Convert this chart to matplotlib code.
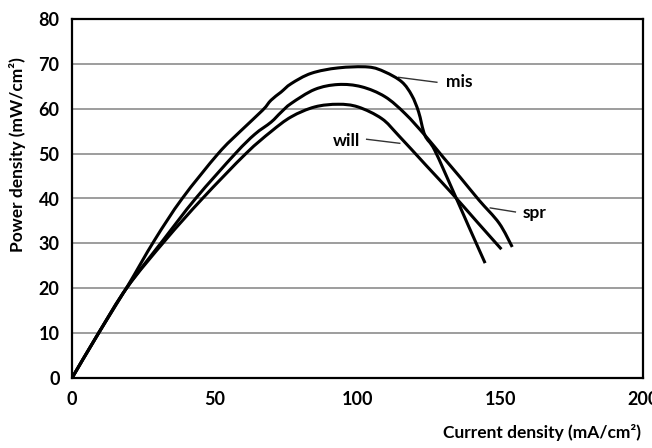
import numpy as np
import matplotlib
matplotlib.use('Agg')
from matplotlib import pyplot as plt
from matplotlib.path import Path
from matplotlib.patches import PathPatch

plt.rcParams['font.family'] = ['Lato', 'DejaVu Sans']
plt.rcParams['font.weight'] = 'bold'

# curve readings (current density, power density)
mis_x = [0, 9.3, 19.3, 28.9, 38.6, 51.2, 59, 66.8, 69.7, 73.2, 76.8, 83.8, 93.2, 103.8,
         109.6, 115.5, 119, 121.4, 123.6, 127, 133.8, 139, 144.7]
mis_y = [0, 10, 20.3, 30.7, 40, 50, 55, 59.7, 61.9, 63.7, 65.6, 67.9, 69.1, 69.3,
         68.2, 66, 63, 59.3, 54.1, 50.8, 41.2, 33.7, 25.6]

spr_x = [0, 9.3, 19.3, 31.9, 43.3, 57.2, 64, 69.7, 73.2, 76.8, 85, 93.2, 101.4, 109.6,
         116.7, 123.6, 130, 136, 142.6, 149.6, 154.2]
spr_y = [0, 10, 20.2, 30.7, 40, 50, 54.3, 57.0, 59.2, 61.2, 64.3, 65.4, 64.9, 62.7,
         58.9, 54.1, 49.2, 44.7, 39.6, 34.5, 29.2]

will_x = [0, 9.3, 19.3, 32.7, 45.7, 60.9, 69.7, 76.8, 85, 93.2, 100.2, 108.5, 114.3,
          124, 133, 142, 150.4]
will_y = [0, 10, 20.2, 30.7, 40, 50, 54.9, 58.2, 60.4, 61, 60.4, 57.8, 54.1,
          47.4, 41.2, 34.7, 28.7]

x_ticks = [0, 50, 100, 150, 200]
y_ticks = [0, 10, 20, 30, 40, 50, 60, 70, 80]

# label text, text anchor, leader line start/end
labels = [
    ('mis', (131.0, 65.9), (114.4, 67.0), (127.8, 65.9)),
    ('will', (91.5, 52.8), (103.2, 53.2), (114.8, 52.3)),
    ('spr', (158.0, 36.7), (146.5, 37.9), (155.3, 37.0)),
]


# smoothed line like a spreadsheet "smooth line": bezier through every reading
def smooth_path(xs, ys):
    p = np.column_stack([xs, ys]).astype(float)
    verts = [p[0]]
    codes = [Path.MOVETO]
    for i in range(len(p) - 1):
        p0 = p[i - 1] if i > 0 else p[i]
        p3 = p[i + 2] if i + 2 < len(p) else p[i + 1]
        c1 = p[i] + (p[i + 1] - p0) / 6.0
        c2 = p[i + 1] - (p3 - p[i]) / 6.0
        verts += [c1, c2, p[i + 1]]
        codes += [Path.CURVE4] * 3
    return Path(verts, codes)


fig = plt.figure(figsize=(6.52, 4.48), dpi=100)
ax = fig.add_axes([72/652, 1-378/448, 571/652, 359/448])

for yv in y_ticks[1:-1]:
    ax.axhline(yv, color='#8c8c8c', lw=1.2, zorder=1)

for xs, ys in [(mis_x, mis_y), (spr_x, spr_y), (will_x, will_y)]:
    ax.add_patch(PathPatch(smooth_path(xs, ys), fill=False, edgecolor='black',
                           lw=2.2, capstyle='butt', zorder=3))

for txt, pos, l0, l1 in labels:
    ax.plot([l0[0], l1[0]], [l0[1], l1[1]], color='#333333', lw=1.0, zorder=2)
    ax.text(pos[0], pos[1], txt, fontsize=12.5, fontweight='bold', ha='left', va='center')

ax.set_xlim(0, 200)
ax.set_ylim(0, 80)
ax.set_xticks(x_ticks)
ax.set_yticks(y_ticks)
ax.tick_params(length=0, labelsize=13, pad=9)
for lab in ax.get_xticklabels() + ax.get_yticklabels():
    lab.set_fontweight('bold')
for sp in ax.spines.values():
    sp.set_linewidth(1.6)
    sp.set_color('black')

ax.set_xlabel('Current density (mA/cm²)', fontsize=12.5, fontweight='bold',
              ha='right', va='center')
ax.xaxis.set_label_coords(0.996, -0.152)
ax.set_ylabel('Power density (mW/cm²)', fontsize=12.5, fontweight='bold', va='center')
ax.yaxis.set_label_coords(-0.095, 0.621)

fig.savefig('out.png', dpi=100)
